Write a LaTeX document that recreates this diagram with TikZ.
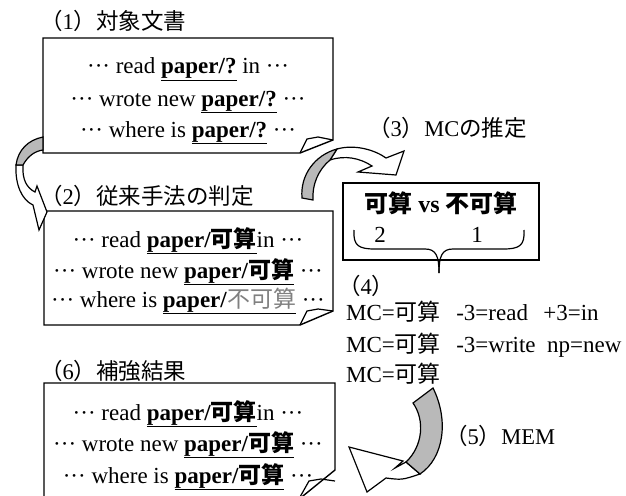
\documentclass[tikz,border=0pt]{standalone}
\usepackage{fontspec}
\setmainfont{Liberation Serif}
\newfontfamily\jp{Noto Sans CJK JP}
\newcommand{\ka}{{\jp 可算}}
\newcommand{\dts}{···}
\newcommand{\ppr}[1]{\underline{\textbf{paper/#1}}}
\tikzset{
  box/.style={draw, line width=1.4pt, fill=white},
  txt/.style={anchor=base, inner sep=0pt, font=\fontsize{23}{27}\selectfont},
  lbl/.style={anchor=west, inner sep=0pt, font=\fontsize{22.5}{26}\selectfont},
  ltxt/.style={anchor=base west, inner sep=0pt, font=\fontsize{23}{26}\selectfont},
  shade/.style={draw, line width=1.2pt, fill=gray!55},
  arrw/.style={draw, line width=1.2pt, fill=white, line join=miter},
  fold/.style={draw, line width=1.2pt},
}
\begin{document}
\begin{tikzpicture}[x=1pt,y=-1pt]
\useasboundingbox (0,0) rectangle (626,495);

% ---------- box 1 ----------
\node[lbl] (l1) at (40,21) {{\jp （}1{\jp ）対象文書}};
\path[box] (43,38) -- (333,38) -- (333,140) -- (300,153) -- (43,153) -- cycle;
\path[fold] (300,153) -- (307,139) -- (318,137) -- (333,140);
\node[txt] (t11) at (188,74) {\dts{} read \ppr{?} in \dts};
\node[txt] (t12) at (188,106) {\dts{} wrote new \ppr{?} \dts};
\node[txt] (t13) at (188,137) {\dts{} where is \ppr{?} \dts};

% ---------- box 2 ----------
\node[lbl] (l2) at (40,196) {{\jp （}2{\jp ）従来手法の判定}};
\path[box] (44,211) -- (333,211) -- (333,311) -- (300,325) -- (44,325) -- cycle;
\path[fold] (300,325) -- (307,311) -- (318,309) -- (333,311);
\node[txt] (t21) at (188,247) {\dts{} read \ppr{\ka}in \dts};
\node[txt] (t22) at (188,278) {\dts{} wrote new \ppr{\ka} \dts};
\node[txt] (t23) at (188,307) {\dts{} where is \underline{\textbf{paper/}{\color{gray}\jp\mdseries 不可算}} \dts};

% ---------- box 6 (bottom runs past the picture's edge) ----------
\node[lbl] (l6) at (40,371) {{\jp （}6{\jp ）補強結果}};
\path[box] (44,505) -- (44,383) -- (335,383) -- (335,470) -- (298,500) -- (298,505);
\path[fold] (300,497) -- (309,481) -- (321,479) -- (335,481);
\node[txt] (t61) at (188,420) {\dts{} read \ppr{\ka}in \dts};
\node[txt] (t62) at (188,451) {\dts{} wrote new \ppr{\ka} \dts};
\node[txt] (t63) at (188,483) {\dts{} where is \ppr{\ka} \dts};

% ---------- box 3 ----------
\node[lbl] (l3) at (368,128) {{\jp （}3{\jp ）}MC{\jp の推定}};
\path[box] (343,183) rectangle (539,260);
\node[txt, font=\fontsize{24}{28}\selectfont] (t31) at (441,212) {{\jp\bfseries 可算} \textbf{vs} {\jp\bfseries 不可算}};
\node[txt] (n2) at (380,242) {2};
\node[txt] (n1) at (477,242) {1};
\draw[line width=1.2pt] (354,230) .. controls (353,246) and (359,249) .. (375,249) -- (425,249)
   .. controls (436,249) and (439,256) .. (439,273);
\draw[line width=1.2pt] (524,230) .. controls (525,246) and (519,249) .. (503,249) -- (453,249)
   .. controls (442,249) and (439,256) .. (439,273);

% ---------- (4) ----------
\node[lbl] (l4) at (338,286) {{\jp （}4{\jp ）}};
\node[ltxt] (r1) at (346,320) {MC={\jp 可算}\ \ \,-3=read\ \ \,+3=in};
\node[ltxt] (r2) at (346,352) {MC={\jp 可算}\ \ \,-3=write\ \ np=new};
\node[ltxt] (r3) at (346,382) {MC={\jp 可算}};

% ---------- (5) ----------
\node[lbl] (l5) at (445,436) {{\jp （}5{\jp ）}MEM};

% ---------- arrow 1 (box1 -> box2) ----------
\path[arrw] (23,165) .. controls (22,180) and (27,188) .. (35,192) -- (37,186) -- (47,212)
   -- (39,230) -- (33,205) .. controls (22,200) and (15,185) .. (16,165) -- cycle;
\path[shade] (43,137) .. controls (28,140) and (18,150) .. (16,165) -- (23,165)
   .. controls (28,156) and (35,151) .. (43,150) -- cycle;

% ---------- arrow 2 (box2 -> box3) ----------
\path[arrw] (337,149) .. controls (355,144) and (375,150) .. (386,158) -- (404,151) -- (396,175)
   -- (358,172) -- (372,166) .. controls (360,158) and (345,155) .. (330,160) -- cycle;
\path[shade] (302,198) .. controls (300,175) and (315,155) .. (337,149) -- (330,160)
   .. controls (318,170) and (312,185) .. (313,200) -- cycle;

% ---------- arrow 3 (rules -> box6) ----------
\path[arrw] (406,462) .. controls (401,465) .. (395,468) -- (403,461) -- (349,447) -- (367,492)
   -- (386,478) .. controls (402,480) .. (420,474) -- cycle;
\path[shade] (433,388) .. controls (449,420) and (444,458) .. (420,474) -- (406,462)
   .. controls (423,446) and (425,420) .. (413,403) -- cycle;
\end{tikzpicture}
\end{document}
